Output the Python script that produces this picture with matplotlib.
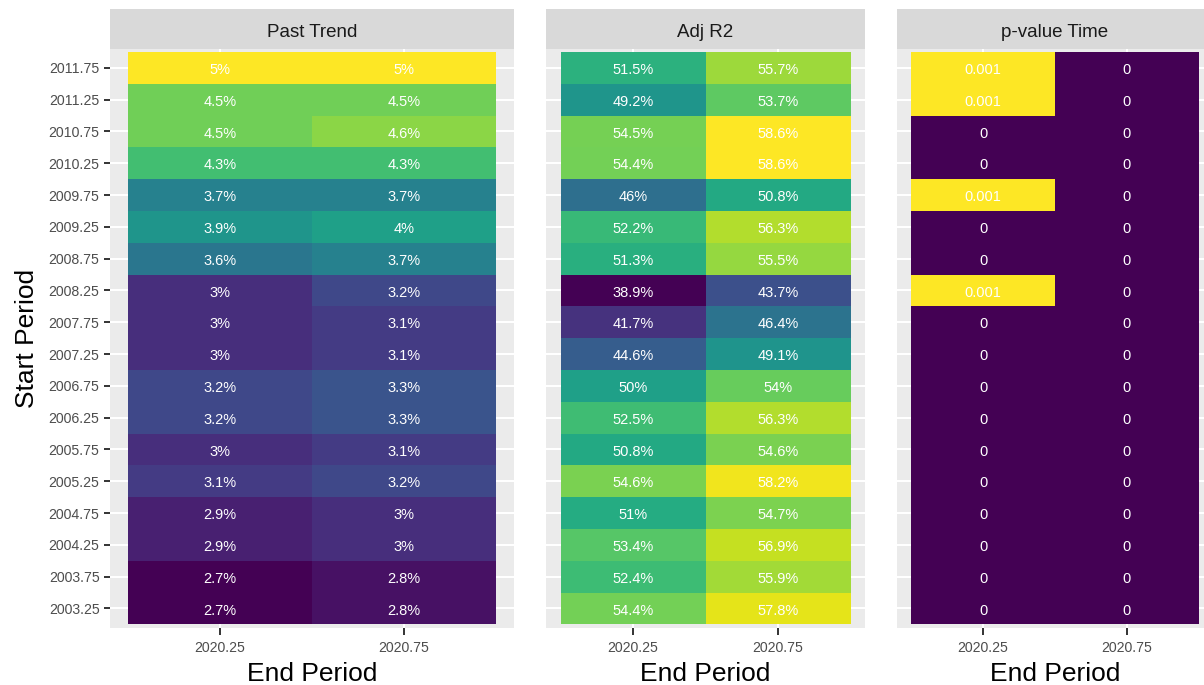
import numpy as np
import matplotlib
matplotlib.use("Agg")
import matplotlib.pyplot as plt

plt.rcParams['font.family'] = ['Liberation Sans', 'DejaVu Sans']

# rows, bottom to top
start_periods = ["2003.25", "2003.75", "2004.25", "2004.75", "2005.25", "2005.75",
                 "2006.25", "2006.75", "2007.25", "2007.75", "2008.25", "2008.75",
                 "2009.25", "2009.75", "2010.25", "2010.75", "2011.25", "2011.75"]
end_periods = ["2020.25", "2020.75"]

# Past Trend (%), columns 2020.25 / 2020.75
trend_a = [2.7, 2.7, 2.9, 2.9, 3.1, 3.0, 3.2, 3.2, 3.0, 3.0, 3.0, 3.6, 3.9, 3.7, 4.3, 4.5, 4.5, 5.0]
trend_b = [2.8, 2.8, 3.0, 3.0, 3.2, 3.1, 3.3, 3.3, 3.1, 3.1, 3.2, 3.7, 4.0, 3.7, 4.3, 4.6, 4.5, 5.0]

# Adj R2 (%)
r2_a = [54.4, 52.4, 53.4, 51.0, 54.6, 50.8, 52.5, 50.0, 44.6, 41.7, 38.9, 51.3, 52.2, 46.0, 54.4, 54.5, 49.2, 51.5]
r2_b = [57.8, 55.9, 56.9, 54.7, 58.2, 54.6, 56.3, 54.0, 49.1, 46.4, 43.7, 55.5, 56.3, 50.8, 58.6, 58.6, 53.7, 55.7]

# p-value Time
pval_a = [0, 0, 0, 0, 0, 0, 0, 0, 0, 0, 0.001, 0, 0, 0.001, 0, 0, 0.001, 0.001]
pval_b = [0] * 18

W, H = 1204, 685


def fx(px):
    return px / W


def fy(px):
    return 1 - px / H


def pct(v):
    return f"{round(v, 1):g}%"


def num(v):
    return f"{round(v, 3):g}"


fig = plt.figure(figsize=(W / 100, H / 100), dpi=100)

top, bottom = 48.8, 627.5
strip_top = 9.0

panels = [
    ("Past Trend", trend_a, trend_b, pct, 110, 514, True),
    ("Adj R2", r2_a, r2_b, pct, 546, 865, False),
    ("p-value Time", pval_a, pval_b, num, 897, 1213, False),
]

for title, col_a, col_b, fmt, left, right, show_y in panels:
    ax = fig.add_axes([fx(left), fy(bottom), fx(right - left), (bottom - top) / H])
    ax.set_facecolor("#EBEBEB")
    z = np.column_stack([col_a, col_b])
    ax.pcolormesh(np.arange(3) - 0.5, np.arange(19) - 0.5, z, cmap="viridis",
                  vmin=z.min(), vmax=z.max(), zorder=2)
    for j in range(2):
        for i in range(len(start_periods)):
            ax.annotate(fmt(z[i, j]), (j, i), xytext=(0, -1.5), textcoords="offset points",
                        ha="center", va="center", color="white", fontsize=10.5, zorder=3)
    ax.set_xlim(-0.6, 1.6)
    ax.set_ylim(-0.6, 17.6)
    ax.set_xticks(range(2))
    ax.set_xticklabels(end_periods)
    ax.set_yticks(range(len(start_periods)))
    ax.set_axisbelow(True)
    ax.grid(True, color="white", linewidth=1.5)
    for s in ax.spines.values():
        s.set_visible(False)
    ax.tick_params(axis="x", length=5, width=1.4, color="#333333",
                   labelcolor="#4D4D4D", labelsize=10.2, pad=4.5)
    if show_y:
        ax.set_yticklabels(start_periods)
        ax.tick_params(axis="y", length=4.5, width=1.4, color="#333333",
                       labelcolor="#4D4D4D", labelsize=10.2, pad=3)
        ax.set_ylabel("Start Period", fontsize=19, labelpad=7)
    else:
        ax.set_yticklabels([])
        ax.tick_params(axis="y", length=0)
    ax.set_xlabel("End Period", fontsize=19, labelpad=5)

    sax = fig.add_axes([fx(left), fy(top), fx(right - left), (top - strip_top) / H])
    sax.set_facecolor("#D9D9D9")
    sax.set_xticks([])
    sax.set_yticks([])
    for s in sax.spines.values():
        s.set_visible(False)
    sax.text(0.5, (top - 37.3) / (top - strip_top), title, ha="center", va="baseline",
             fontsize=13.5, color="#1A1A1A", transform=sax.transAxes)

fig.savefig("out.png", dpi=100)
